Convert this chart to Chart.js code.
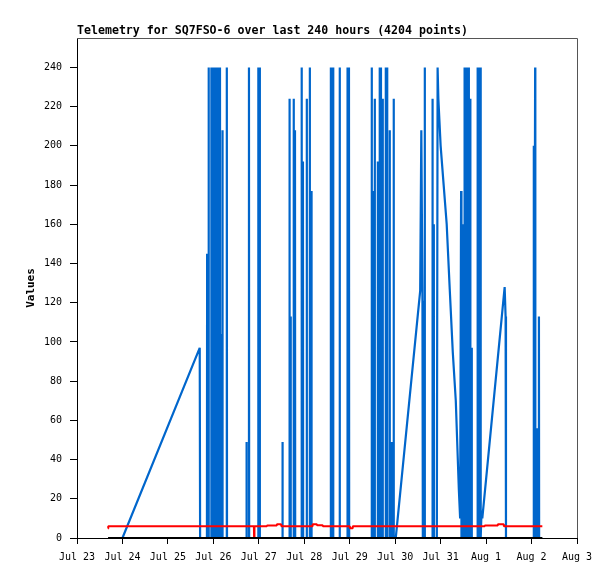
<!DOCTYPE html>
<html>
<head>
<meta charset="utf-8">
<title>Telemetry for SQ7FSO-6</title>
<script src="https://cdn.jsdelivr.net/npm/chart.js@4.4.1/dist/chart.umd.min.js"></script>
<style>
  html, body { margin: 0; padding: 0; background: #fff; }
  canvas { display: block; }
</style>
</head>
<body>
<canvas id="myChart" width="615" height="579"></canvas>
<script>
const ctx = document.querySelector("#myChart");

const chartTitle = "Telemetry for SQ7FSO-6 over last 240 hours (4204 points)";
const yAxisTitle = "Values";

// x is hours since Jul 23 00:00, one tick per day
const dayLabels = ["Jul 23", "Jul 24", "Jul 25", "Jul 26", "Jul 27", "Jul 28",
                   "Jul 29", "Jul 30", "Jul 31", "Aug 1", "Aug 2", "Aug 3"];

// black series (flat at 0)
const blackHours  = [16.4, 245.7];
const blackValues = [0, 0];

// red series (around 6)
const redHours  = [16.4, 16.5, 93.4, 93.5, 93.7, 100.2, 100.3, 105.5, 105.6, 107.8, 107.9,
                   124.3, 124.4, 126.6, 126.7, 129.7, 129.8, 144.0, 144.1, 145.5, 145.6,
                   215.2, 215.3, 222.1, 222.2, 225.3, 225.4, 245.7];
const redValues = [4.8, 6, 6, 0, 6, 6, 6.4, 6.4, 7, 7, 6,
                   6, 7, 7, 6.5, 6.5, 6, 6, 5, 5, 6,
                   6, 6.4, 6.4, 7, 7, 6, 6];

// blue series (spiky)
const blueHours = [
  24.0, 64.8, 65.0, 68.6,
  68.7, 68.8,
  69.4, 69.5, 69.6,   70.8, 70.9, 71.0,   71.6, 71.7, 71.8,   72.4, 72.5, 72.6,
  73.1, 73.2, 73.3,   73.9, 74.0, 74.1,   74.7, 74.8, 74.9,   75.4, 75.5, 75.6,
  76.1, 76.2, 76.3,   76.7, 76.8, 76.9,   79.0, 79.1, 79.2,
  89.4, 89.5, 89.6,   90.7, 90.8, 90.9,   95.6, 95.7, 95.8,   96.4, 96.5, 96.6,
  108.4, 108.5, 108.6,   112.1, 112.2, 112.3,   112.7, 112.8, 112.9,
  114.3, 114.4, 114.5,   115.0, 115.1, 115.2,   118.5, 118.6, 118.7,
  119.2, 119.3, 119.4,   121.2, 121.3, 121.4,   122.8, 122.9, 123.0,
  123.7, 123.8, 123.9,
  133.9, 134.0, 134.1,   135.1, 135.2, 135.3,   138.6, 138.7, 138.8,
  142.7, 142.8, 142.9,   143.5, 143.6, 143.7,
  155.5, 155.6, 155.7,   156.2, 156.3, 156.4,   157.1, 157.2, 157.3,
  158.7, 158.8, 158.9,   159.7, 159.8, 159.9,   160.4, 160.5, 160.6,
  161.3, 161.4, 161.5,   162.9, 163.0, 163.1,   163.6, 163.7, 163.8,
  165.0, 165.1, 165.2,   166.1, 166.2, 166.3,   167.1, 167.2, 167.3,
  168.3, 181.2, 181.8, 182.4, 182.6,
  183.5, 183.6, 183.7,   187.6, 187.7, 187.8,   188.3, 188.4, 188.5,
  190.0, 190.4, 190.8, 192.0, 193.6, 195.2, 196.8, 198.4, 200.0, 201.6, 202.3,
  202.8, 203.0,
  203.6, 203.7, 203.8,   204.5, 204.6, 204.7,   205.3, 205.4, 205.5,
  206.1, 206.2, 206.3,   206.8, 206.9, 207.0,   207.5, 207.6, 207.7,
  208.3, 208.4, 208.5,
  211.4, 211.5, 211.6,   212.2, 212.3, 212.4,   213.0, 213.1, 213.2,
  213.6, 214.0, 225.8, 226.3, 226.5,
  241.1, 241.2, 241.3,   241.8, 241.9, 242.0,   243.0, 243.1, 243.2,
  243.8, 243.9, 244.0,
  245.6
];
const blueValues = [
  0, 97, 0, 0,
  145, 0,
  0, 240, 0,   0, 240, 0,   0, 240, 0,   0, 240, 0,
  0, 240, 0,   0, 240, 0,   0, 240, 0,   0, 240, 0,
  0, 104, 0,   0, 208, 0,   0, 240, 0,
  0, 49, 0,    0, 240, 0,   0, 240, 0,   0, 240, 0,
  0, 49, 0,    0, 224, 0,   0, 113, 0,
  0, 224, 0,   0, 208, 0,   0, 240, 0,
  0, 192, 0,   0, 224, 0,   0, 240, 0,
  0, 177, 0,
  0, 240, 0,   0, 240, 0,   0, 240, 0,
  0, 240, 0,   0, 240, 0,
  0, 240, 0,   0, 177, 0,   0, 224, 0,
  0, 192, 0,   0, 240, 0,   0, 240, 0,
  0, 224, 0,   0, 240, 0,   0, 240, 0,
  0, 208, 0,   0, 49, 0,    0, 224, 0,
  0, 126, 208, 121, 0,
  0, 240, 0,   0, 224, 0,   0, 160, 0,
  0, 240, 224, 200, 180, 160, 127, 95, 70, 25, 10,
  177, 0,
  0, 160, 0,   0, 240, 0,   0, 240, 0,
  0, 240, 0,   0, 240, 0,   0, 224, 0,
  0, 97, 0,
  0, 240, 0,   0, 240, 0,   0, 240, 0,
  14, 10, 128, 113, 0,
  0, 200, 0,   0, 240, 0,   0, 56, 0,
  0, 113, 0,
  0
];

function toPoints(hours, values) {
    return hours.map((h, i) => ({ x: h, y: values[i] }));
}

Chart.defaults.font.family = "'DejaVu Sans Mono', monospace";
Chart.defaults.color = "#000";

// grey top and right edges of the plot box
const plotFrame = {
    id: "plotFrame",
    afterDraw(chart) {
        const { ctx, chartArea } = chart;
        ctx.save();
        ctx.strokeStyle = "#555";
        ctx.lineWidth = 1;
        ctx.beginPath();
        ctx.moveTo(chartArea.left, chartArea.top + 0.5);
        ctx.lineTo(chartArea.right + 0.5, chartArea.top + 0.5);
        ctx.lineTo(chartArea.right + 0.5, chartArea.bottom);
        ctx.stroke();
        ctx.restore();
    }
};

let myChart = new Chart(ctx, {
    type: "line",
    data: {
        datasets: [
            { label: "black", data: toPoints(blackHours, blackValues), borderColor: "#000000", borderWidth: 2 },
            { label: "red", data: toPoints(redHours, redValues), borderColor: "#ff0000", borderWidth: 2 },
            { label: "blue", data: toPoints(blueHours, blueValues), borderColor: "#0066cc", borderWidth: 2.2 }
        ]
    },
    options: {
        responsive: false,
        animation: false,
        devicePixelRatio: 1,
        elements: {
            point: { radius: 0 },
            line: { tension: 0, fill: false, borderJoinStyle: "bevel" }
        },
        layout: { padding: { left: 0, right: 38, top: 0, bottom: 0 } },
        plugins: {
            legend: { display: false },
            tooltip: { enabled: false },
            title: {
                display: true,
                text: chartTitle,
                align: "start",
                fullSize: false,
                color: "#000",
                font: { size: 11.6, weight: "bold", lineHeight: "14px" },
                padding: { top: 24, bottom: 0 }
            }
        },
        scales: {
            x: {
                type: "linear",
                min: 0,
                max: 264,
                afterFit(scale) { scale.height = 41; },
                ticks: {
                    stepSize: 24,
                    maxTicksLimit: 20,
                    autoSkip: false,
                    maxRotation: 0,
                    padding: 7,
                    font: { size: 10 },
                    callback: (v) => dayLabels[Math.round(v / 24)]
                },
                grid: { drawOnChartArea: false, color: "#000", tickLength: 6 },
                border: { color: "#000" }
            },
            y: {
                min: 0,
                max: 255,
                afterFit(scale) { scale.width = 77; },
                ticks: {
                    stepSize: 20,
                    maxTicksLimit: 20,
                    includeBounds: false,
                    padding: 8,
                    font: { size: 10 }
                },
                grid: { drawOnChartArea: false, color: "#000", tickLength: 7 },
                border: { color: "#000" },
                title: {
                    display: true,
                    text: yAxisTitle,
                    color: "#000",
                    font: { size: 11, weight: "bold" },
                    padding: { top: 24.5, bottom: 0 }
                }
            }
        }
    },
    plugins: [plotFrame]
});
</script>
</body>
</html>
